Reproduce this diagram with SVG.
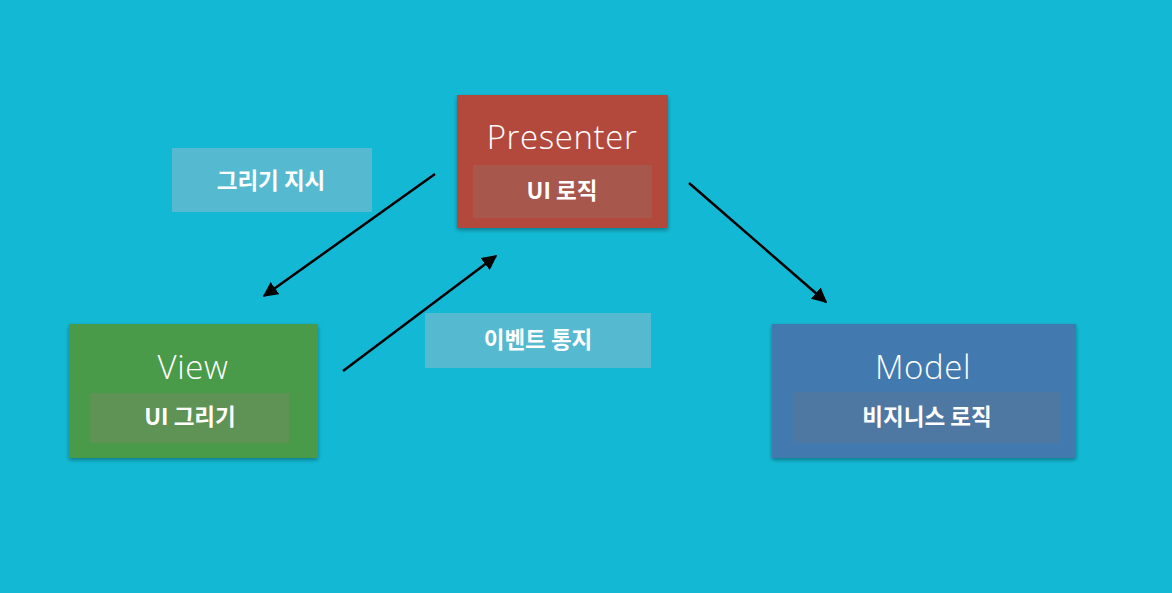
<svg xmlns="http://www.w3.org/2000/svg" width="1172" height="593" viewBox="0 0 1172 593">
<style>
.title{font-family:"Open Sans","Liberation Sans",sans-serif;font-weight:300;font-size:33px;letter-spacing:0.6px;fill:#ffffff;text-anchor:middle}
.sub{font-family:"Noto Sans CJK KR","Noto Sans",sans-serif;font-weight:700;font-size:22.5px;fill:#ffffff;text-anchor:middle}
.lbl{fill:#55b9d0}
</style>
<defs>
<filter id="sh" x="-10%" y="-10%" width="120%" height="125%">
<feDropShadow dx="0" dy="2" stdDeviation="2" flood-color="#000" flood-opacity="0.35"/>
</filter>
<marker id="ah" viewBox="0 0 10 10" refX="9" refY="5" markerWidth="6" markerHeight="6" orient="auto" markerUnits="strokeWidth">
<path d="M0,0 L10,5 L0,10 z" fill="#000"/>
</marker>
</defs>
<rect width="1172" height="593" fill="#13b9d4"/>
<g id="label-draw">
<rect class="lbl" x="172" y="148" width="200" height="64"/>
<text class="sub" x="271" y="189">그리기 지시</text>
</g>
<g id="label-event">
<rect class="lbl" x="425" y="313" width="226" height="55"/>
<text class="sub" x="538" y="348">이벤트 통지</text>
</g>
<g id="presenter">
<rect x="457" y="95" width="211" height="133" fill="#b3493e" filter="url(#sh)"/>
<rect x="473" y="165" width="179" height="53" fill="#a7574c"/>
<text class="title" x="562" y="149">Presenter</text>
<text class="sub" x="562" y="199">UI 로직</text>
</g>
<g id="view">
<rect x="69" y="324" width="249" height="134" fill="#4a9a48" filter="url(#sh)"/>
<rect x="90" y="393" width="199" height="50" fill="#5e9355"/>
<text class="title" x="193" y="379">View</text>
<text class="sub" x="190" y="425">UI 그리기</text>
</g>
<g id="model">
<rect x="772" y="324" width="304" height="134" fill="#4279ae" filter="url(#sh)"/>
<rect x="793" y="392" width="267" height="51" fill="#4e77a2"/>
<text class="title" x="923" y="379">Model</text>
<text class="sub" x="927" y="425">비지니스 로직</text>
</g>
<g id="connectors" stroke="#000" stroke-width="2.5" fill="none">
<line x1="435" y1="174" x2="264" y2="296" marker-end="url(#ah)"/>
<line x1="343" y1="371" x2="496" y2="256" marker-end="url(#ah)"/>
<line x1="689" y1="183" x2="826" y2="302" marker-end="url(#ah)"/>
</g>
</svg>
